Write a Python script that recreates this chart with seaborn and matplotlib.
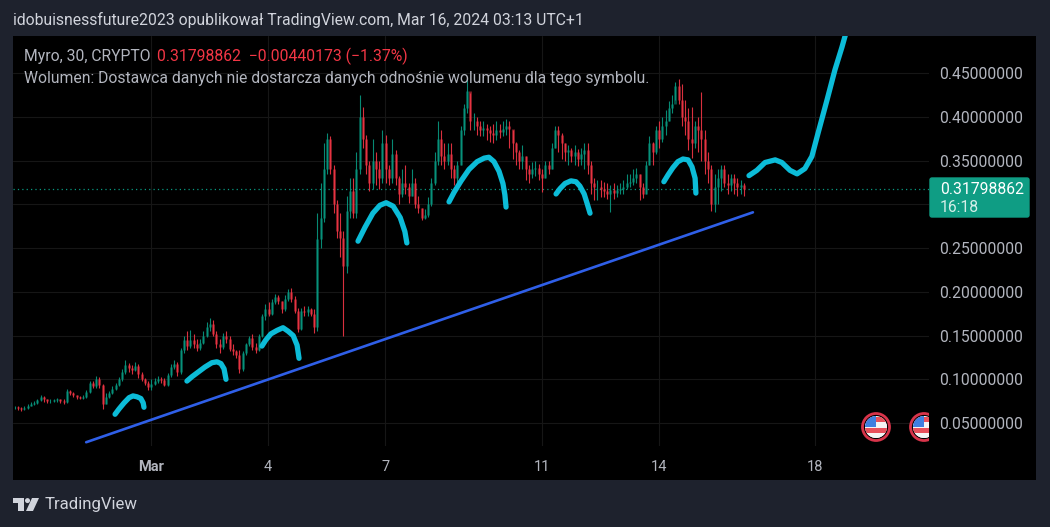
import numpy as np
import pandas as pd
import matplotlib
matplotlib.use("Agg")
import matplotlib.pyplot as plt
import seaborn as sns
from matplotlib.patches import Rectangle, Circle, Polygon, FancyBboxPatch

# ── DATA ─────────────────────────────────────────────
# x is in days counted from 1 Mar, one candle every 2 hours
first_day = -3.49
candle_step = 2 / 24

closes = [
    .068,.067,.066,.067,.070,.072,.073,.076,.080,.077,
    .075,.075,.076,.077,.075,.074,.087,.084,.082,.080,
    .079,.080,.085,.096,.092,.100,.094,.072,.080,.084,
    .089,.093,.100,.108,.116,.113,.111,.115,.106,.100,
    .096,.091,.095,.098,.100,.099,.094,.105,.114,.118,
    .108,.133,.145,.138,.145,.140,.136,.142,.150,.160,
    .163,.152,.140,.137,.150,.146,.135,.132,.128,.112,
    .130,.140,.147,.137,.134,.150,.172,.180,.175,.188,
    .194,.190,.180,.192,.200,.192,.178,.158,.178,.177,
    .180,.175,.160,.260,.285,.340,.375,.340,.300,.270,
    .262,.230,.292,.315,.290,.340,.400,.375,.345,.325,
    .350,.340,.330,.370,.340,.330,.358,.330,.312,.325,
    .320,.310,.325,.300,.296,.285,.288,.300,.325,.350,
    .375,.355,.350,.358,.340,.330,.345,.385,.410,.430,
    .395,.395,.390,.385,.388,.385,.382,.380,.385,.383,
    .386,.390,.386,.370,.360,.350,.355,.340,.335,.340,
    .342,.335,.330,.345,.340,.365,.385,.380,.370,.360,
    .362,.355,.360,.352,.358,.362,.345,.325,.320,.320,
    .318,.315,.312,.316,.313,.316,.318,.320,.324,.326,
    .330,.335,.320,.312,.345,.370,.360,.385,.375,.390,
    .395,.410,.415,.435,.420,.400,.395,.375,.370,.390,
    .385,.375,.350,.340,.300,.320,.330,.340,.325,.322,
    .330,.325,.320,.322,.318,
]
highs = [
    .069,.069,.068,.069,.072,.074,.075,.078,.082,.081,
    .077,.077,.078,.079,.078,.077,.089,.088,.085,.082,
    .081,.082,.088,.098,.098,.104,.103,.095,.084,.087,
    .092,.096,.103,.112,.122,.119,.116,.120,.118,.108,
    .102,.098,.100,.102,.104,.103,.101,.107,.118,.122,
    .120,.136,.150,.155,.156,.152,.146,.146,.155,.165,
    .170,.168,.155,.146,.153,.155,.150,.140,.134,.133,
    .132,.142,.150,.152,.141,.152,.175,.186,.188,.192,
    .198,.197,.190,.196,.203,.204,.195,.182,.182,.184,
    .184,.182,.180,.290,.325,.370,.382,.378,.345,.305,
    .290,.270,.310,.330,.330,.360,.425,.412,.380,.350,
    .375,.360,.350,.385,.380,.345,.375,.362,.332,.340,
    .345,.325,.340,.330,.310,.296,.295,.308,.330,.360,
    .395,.385,.370,.370,.370,.345,.350,.390,.415,.445,
    .428,.405,.400,.395,.395,.392,.390,.392,.395,.392,
    .395,.398,.395,.385,.372,.362,.368,.355,.345,.348,
    .350,.346,.340,.350,.350,.370,.390,.390,.382,.370,
    .368,.365,.368,.363,.365,.370,.370,.350,.330,.328,
    .328,.326,.325,.322,.325,.322,.325,.328,.335,.335,
    .340,.342,.335,.325,.350,.378,.372,.390,.395,.400,
    .408,.418,.425,.440,.443,.438,.420,.410,.412,.395,
    .400,.429,.385,.360,.345,.335,.340,.345,.345,.335,
    .335,.335,.330,.328,.325,
]
lows = [
    .066,.065,.064,.065,.066,.069,.071,.072,.075,.074,
    .073,.073,.074,.074,.073,.072,.073,.082,.080,.078,
    .077,.078,.079,.084,.090,.090,.090,.066,.072,.079,
    .083,.088,.092,.098,.106,.108,.106,.109,.102,.098,
    .094,.088,.088,.093,.096,.096,.092,.092,.103,.112,
    .104,.106,.130,.134,.136,.136,.132,.134,.140,.148,
    .155,.150,.136,.130,.135,.142,.132,.128,.124,.107,
    .110,.128,.138,.133,.130,.132,.148,.168,.172,.174,
    .186,.186,.176,.178,.190,.188,.176,.154,.156,.172,
    .172,.172,.153,.155,.250,.280,.335,.335,.290,.262,
    .240,.150,.222,.285,.285,.285,.335,.365,.335,.315,
    .318,.322,.318,.325,.325,.322,.325,.322,.300,.308,
    .312,.302,.310,.296,.290,.282,.283,.286,.298,.322,
    .345,.345,.340,.345,.330,.322,.325,.345,.380,.405,
    .385,.385,.380,.378,.378,.374,.372,.370,.374,.376,
    .378,.380,.365,.352,.345,.340,.340,.328,.325,.330,
    .332,.328,.314,.330,.335,.340,.365,.360,.352,.350,
    .345,.348,.345,.344,.345,.340,.335,.312,.305,.305,
    .308,.308,.306,.291,.306,.308,.312,.312,.318,.320,
    .322,.325,.305,.307,.312,.345,.345,.358,.365,.372,
    .380,.395,.405,.420,.415,.390,.380,.362,.353,.365,
    .360,.350,.335,.325,.292,.291,.300,.315,.320,.312,
    .315,.312,.310,.312,.310,
]

last_price = 0.31798862

# hand drawn arcs on the chart
arc_days = [
    [-.92,-.82,-.69,-.56,-.46,-.36,-.26,-.20,-.18],
    [.92,1.05,1.20,1.38,1.56,1.69,1.79,1.87,1.92],
    [2.84,2.94,3.07,3.23,3.38,3.51,3.64,3.74,3.79],
    [5.30,5.48,5.68,5.86,6.02,6.20,6.38,6.50,6.55],
    [7.63,7.76,7.94,8.14,8.35,8.53,8.65,8.78,8.91,9.01,9.06,9.09],
    [10.37,10.47,10.60,10.75,10.88,10.98,11.09,11.16,11.24],
    [13.13,13.24,13.36,13.49,13.62,13.75,13.85,13.93,13.95],
    [15.31,15.51,15.72,15.98,16.15,16.36,16.54,16.74,16.92,17.08,17.31,17.51,17.69,17.79],
]
arc_prices = [
    [.060,.066,.073,.079,.081,.080,.078,.073,.068],
    [.098,.103,.108,.114,.119,.120,.118,.112,.100],
    [.138,.145,.152,.156,.159,.155,.150,.139,.124],
    [.258,.274,.290,.299,.302,.298,.285,.269,.256],
    [.303,.314,.327,.340,.349,.353,.354,.349,.338,.324,.311,.297],
    [.312,.318,.324,.327,.326,.321,.312,.302,.290],
    [.326,.334,.342,.349,.352,.351,.343,.330,.313],
    [.333,.339,.348,.351,.348,.339,.335,.341,.355,.382,.420,.454,.480,.496],
]
trend_days = [-1.66, 15.41]
trend_prices = [.028, .291]

price_ticks = [.05, .10, .15, .20, .25, .30, .35, .40, .45]
price_labels = ["0.05000000", "0.10000000", "0.15000000", "0.20000000", "0.25000000",
                "", "0.35000000", "0.40000000", "0.45000000"]
day_ticks = [0, 3, 6, 10, 13, 17]
day_labels = ["Mar", "4", "7", "11", "14", "18"]

# ── STYLE ────────────────────────────────────────────
BG = "#1e222d"
UP = "#089981"
DOWN = "#f23645"
TEXT = "#b2b5be"
GRID = "#161616"
CYAN = "#0cbcd8"
BLUE = "#2f5fe8"

sns.set_theme(style="dark")
plt.rcParams["font.family"] = ["Roboto", "DejaVu Sans"]

W, H = 1050, 527
fig = plt.figure(figsize=(W / 100, H / 100), dpi=100, facecolor=BG)

# black panel behind pane and axis strips
back = fig.add_axes([0, 0, 1, 1], zorder=0)
back.set_xlim(0, W)
back.set_ylim(H, 0)
back.axis("off")
back.add_patch(Rectangle((13, 36), 1023, 444, color="black", lw=0))

ax = fig.add_axes([13 / W, 1 - 446 / H, 916 / W, 410 / H], zorder=1, facecolor="black")

# ── CANDLES ──────────────────────────────────────────
c = np.array(closes)
o = np.r_[c[0], c[:-1]]
x = first_day + candle_step * np.arange(len(c))
colors = np.where(c >= o, UP, DOWN)

ax.vlines(x, lows, highs, colors=colors, linewidth=0.8, alpha=0.9, zorder=3)
ax.vlines(x, np.minimum(o, c), np.maximum(o, c), colors=colors, linewidth=2.0, alpha=0.55, zorder=3)

ax.axhline(last_price, color=UP, lw=0.9, ls=(0, (1, 2.5)), zorder=2)

# ── DRAWINGS ─────────────────────────────────────────
trend_df = pd.DataFrame({"day": trend_days, "price": trend_prices})
sns.lineplot(data=trend_df, x="day", y="price", ax=ax, color=BLUE, linewidth=1.9,
             estimator=None, sort=False, solid_capstyle="round", zorder=4)

for days, prices in zip(arc_days, arc_prices):
    arc_df = pd.DataFrame({"day": days, "price": prices})
    sns.lineplot(data=arc_df, x="day", y="price", ax=ax, color=CYAN, linewidth=3.8,
                 estimator=None, sort=False, solid_capstyle="round",
                 solid_joinstyle="round", zorder=5)

# ── AXES ─────────────────────────────────────────────
ax.set_xlim(-3.533, 19.918)
ax.set_ylim(0.0237, 0.4927)
ax.set_xlabel("")
ax.set_ylabel("")
ax.yaxis.tick_right()
ax.set_yticks(price_ticks)
ax.set_yticklabels(price_labels, fontsize=11.3, color=TEXT)
ax.set_xticks(day_ticks)
ax.set_xticklabels(day_labels, fontsize=10.5, color=TEXT)
ax.get_xticklabels()[0].set_fontweight("bold")
ax.tick_params(axis="y", length=0, pad=7.5)
ax.tick_params(axis="x", length=0, pad=10)
ax.grid(True, color=GRID, linewidth=0.8)
ax.set_axisbelow(True)
for s in ax.spines.values():
    s.set_visible(False)

# ── OVERLAY, in pixels ───────────────────────────────
top = fig.add_axes([0, 0, 1, 1], zorder=2)
top.set_xlim(0, W)
top.set_ylim(H, 0)
top.axis("off")

top.text(13, 20, "idobuisnessfuture2023 opublikował TradingView.com, Mar 16, 2024 03:13 UTC+1",
         color="#d1d4dc", fontsize=11.3, va="center")
top.text(24, 56, "Myro, 30, CRYPTO", color=TEXT, fontsize=11.3, va="center")
top.text(157, 56, "0.31798862  −0.00440173 (−1.37%)", color=DOWN, fontsize=11.3, va="center")
top.text(24, 78, "Wolumen: Dostawca danych nie dostarcza danych odnośnie wolumenu dla tego symbolu.",
         color=TEXT, fontsize=11.3, va="center")

# last price label
top.add_patch(FancyBboxPatch((930, 178), 99, 39, boxstyle="round,pad=0,rounding_size=2",
                             fc="#0f9d84", ec="#0f9d84", lw=1))
top.text(940, 189, "0.31798862", color="#ffffff", fontsize=11.3, va="center")
top.text(940, 208, "16:18", color="#d5efe9", fontsize=11.3, va="center")


def draw_flag(cx, cy):
    inner = Circle((cx, cy), 11, fc="#f4f4f4", ec="none", transform=top.transData)
    items = [Circle((cx, cy), 13.5, fc="black", ec="#d8344a", lw=2.0), inner]
    for y0, col in [(cy - 10, "#e8505b"), (cy - 3, "#f4f4f4"), (cy + 1, "#e8505b"), (cy + 6, "#f4f4f4")]:
        items.append(Rectangle((cx - 12, y0), 24, 5, fc=col, ec="none"))
    items.append(Rectangle((cx - 12, cy - 12), 12, 12, fc="#3f7fe0", ec="none"))
    for k, p in enumerate(items):
        top.add_patch(p)
        if k >= 2:
            p.set_clip_path(inner)


draw_flag(876, 427)
draw_flag(924, 427)
# second flag is cut off by the price axis strip
top.add_patch(Rectangle((929, 410), 10, 36, fc="black", ec="none"))

# TradingView logo
logo = "#d1d4dc"
top.add_patch(Polygon([(13, 498), (24, 498), (24, 511), (18, 511), (18, 503), (13, 503)], fc=logo, ec="none"))
top.add_patch(Circle((27.5, 500.6), 2.5, fc=logo, ec="none"))
top.add_patch(Polygon([(32, 498), (39, 498), (33, 511), (26, 511)], fc=logo, ec="none"))
top.text(45, 505, "TradingView", color=logo, fontsize=12.1, va="center")

fig.savefig("out.png", dpi=100, facecolor=BG)
